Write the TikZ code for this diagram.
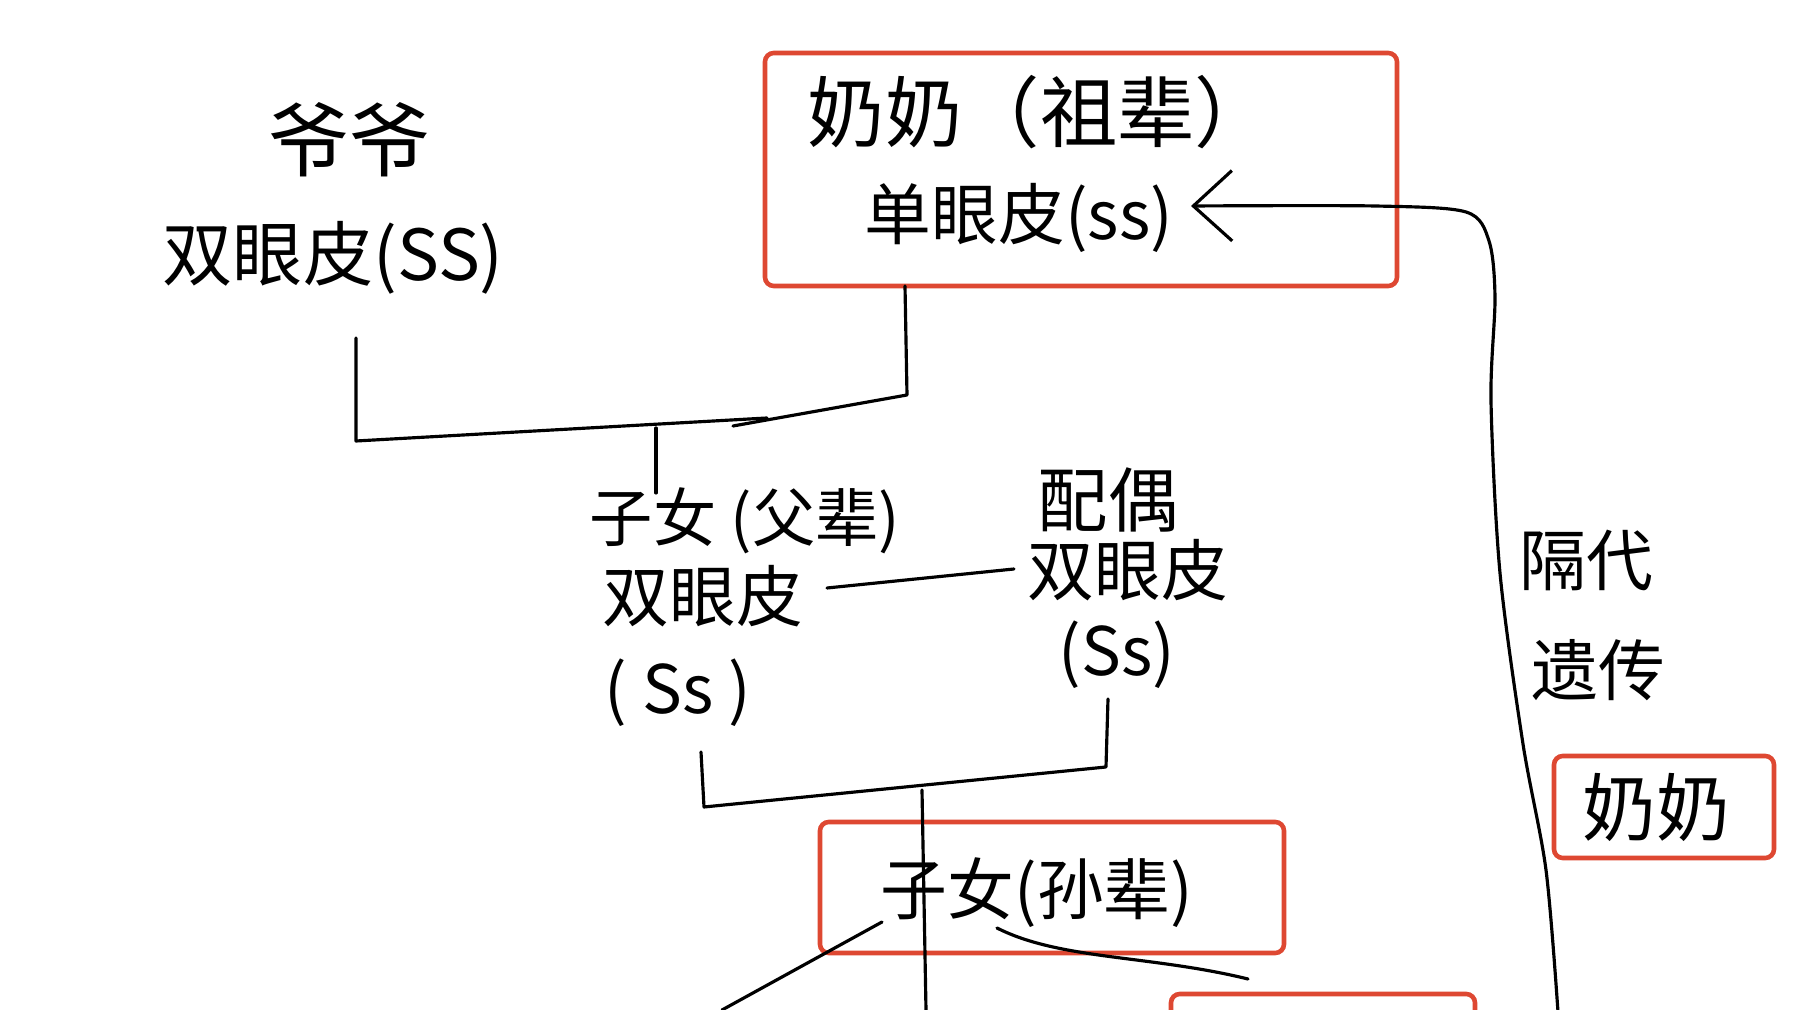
\documentclass[tikz,border=0pt]{standalone}
\usepackage{fontspec}
\newfontfamily\cjk{Noto Sans CJK SC}
\usetikzlibrary{arrows.meta}
\definecolor{boxred}{RGB}{222,72,50}
\tikzset{
  hw/.style={font=\cjk, inner sep=0pt, text=black},
  conn/.style={draw=black, line width=0.9pt, line cap=round, line join=round},
  redbox/.style={draw=boxred, line width=1.3pt, rounded corners=2.5pt, inner sep=0pt},
}
\begin{document}
\begin{tikzpicture}[x=0.01cm,y=-0.01cm]
\useasboundingbox (0,0) rectangle (1796,1010);
\fill[white] (0,0) rectangle (1796,1010);
\clip (0,0) rectangle (1796,1010);

% red boxes
\draw[redbox] (765,53) rectangle (1397,286);
\draw[redbox] (820,822) rectangle (1284,953);
\draw[redbox] (1554,756) rectangle (1774,858);
\draw[redbox] (1171,994) rectangle (1475,1030);

% texts
\node[hw, font=\cjk\fontsize{23}{23}\selectfont] (ye) at (349,140) {爷爷};
\node[hw, font=\cjk\fontsize{20}{20}\selectfont] (yes) at (333,258) {双眼皮(SS)};
\node[hw, font=\cjk\fontsize{22}{22}\selectfont] (nai) at (1040,112) {奶奶（祖辈）};
\node[hw, font=\cjk\fontsize{19}{19}\selectfont] (nais) at (1019,218) {单眼皮(ss)};
\node[hw, font=\cjk\fontsize{18}{18}\selectfont] (zn) at (745,521) {子女 (父辈)};
\node[hw, font=\cjk\fontsize{19}{19}\selectfont] (zns) at (703,596) {双眼皮};
\node[hw, font=\cjk\fontsize{19}{19}\selectfont] (zng) at (678,693) {( Ss )};
\node[hw, font=\cjk\fontsize{20}{20}\selectfont] (po) at (1108,500) {配偶};
\node[hw, font=\cjk\fontsize{19}{19}\selectfont] (pos) at (1128,570) {双眼皮};
\node[hw, font=\cjk\fontsize{19}{19}\selectfont] (pog) at (1117,655) {(Ss)};
\node[hw, font=\cjk\fontsize{19}{19}\selectfont] (sun) at (1037,893) {子女(孙辈)};
\node[hw, font=\cjk\fontsize{19}{19}\selectfont] (gd1) at (1586,561) {隔代};
\node[hw, font=\cjk\fontsize{19}{19}\selectfont] (gd2) at (1598,670) {遗传};
\node[hw, font=\cjk\fontsize{21}{21}\selectfont] (nai2) at (1656,807) {奶奶};

% connector coordinates
\coordinate (a1) at (356,338);
\coordinate (a2) at (356,441);
\coordinate (a3) at (767,418);
\coordinate (b1) at (905,286);
\coordinate (b2) at (907,395);
\coordinate (b3) at (733,426);
\coordinate (c1) at (656,428);
\coordinate (c2) at (656,493);
\coordinate (d1) at (827,588);
\coordinate (d2) at (1014,569);
\coordinate (e1) at (701,752);
\coordinate (e2) at (704,807);
\coordinate (e3) at (1106,767);
\coordinate (e4) at (1108,699);
\coordinate (f1) at (922,790);
\coordinate (f2) at (926,1010);
\coordinate (g1) at (882,922);
\coordinate (g2) at (722,1010);
\coordinate (h1) at (997,928);
\coordinate (h2) at (1248,979);
\coordinate (bot) at (1558,1012);
\coordinate (tip) at (1191,206);

% connectors
\draw[conn] (a1) -- (a2) -- (a3);
\draw[conn] (b1) -- (b2) -- (b3);
\draw[conn] (c1) -- (c2);
\draw[conn] (d1) -- (d2);
\draw[conn] (e1) -- (e2) -- (e3) -- (e4);
\draw[conn] (f1) -- (f2);
\draw[conn] (g1) -- (g2);
\draw[conn] (h1) .. controls (1060,960) and (1150,955) .. (h2);
\draw[conn, -{Straight Barb[length=11pt,width=20pt,line width=0.9pt]}] plot[smooth, tension=0.5] coordinates {(bot) (1546,870) (1523,744) (1500,573) (1491,401) (1495,298) (1489,241) (1466,212) (1375,206) (tip)};
\end{tikzpicture}
\end{document}
